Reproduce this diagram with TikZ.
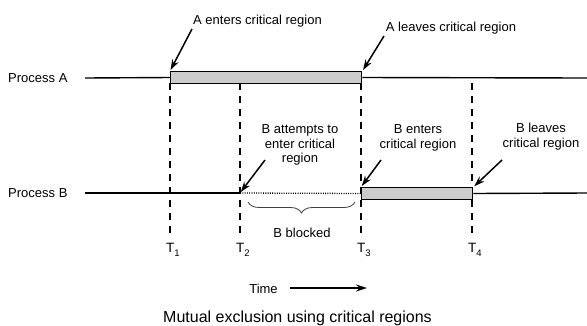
\documentclass[tikz,border=0pt]{standalone}
\usepackage{fontspec}
\setmainfont{Liberation Sans}
\usetikzlibrary{arrows.meta,decorations.pathreplacing}
\newcommand{\tlab}[1]{T\raisebox{-0.6ex}{\fontsize{9.5}{9.5}\selectfont #1}}
\begin{document}
\begin{tikzpicture}[x=1pt,y=-1pt,
  lbl/.style={font=\fontsize{13}{14.5}\selectfont, inner sep=0pt, align=center},
  tl/.style={font=\fontsize{13.5}{14}\selectfont, inner sep=0pt, anchor=base west},
  proc/.style={line width=1.4pt},
  dots/.style={line width=1.3pt, dash pattern=on 1pt off 1.3pt},
  bar/.style={draw, line width=1.4pt, fill=black!20, minimum height=11.5pt, inner sep=0pt},
  tdash/.style={line width=1.3pt, dash pattern=on 7pt off 6pt},
  arr/.style={line width=1.5pt, -{Stealth[length=10.5pt,width=7pt]}, shorten >=1.2pt},
]
\useasboundingbox (0,0) rectangle (587,325);
% process labels
\node[lbl, anchor=base west] (pA) at (8,82.5) {Process A};
\node[lbl, anchor=base west] (pB) at (8,197.5) {Process B};
% coordinates
\coordinate (a0) at (85,78);
\coordinate (aend) at (587,78);
\coordinate (b0) at (85,193);
\coordinate (b2) at (240,193);
\coordinate (bend) at (587,193);
\coordinate (u2) at (240,83);
\coordinate (u4) at (472,83);
\coordinate (d1) at (170,236);
\coordinate (d2) at (240,236);
\coordinate (d3) at (361,236);
\coordinate (d4) at (472,236);
% dashed time lines
\draw[tdash] (170,83) -- (d1);
\draw[tdash] (u2) -- (d2);
\draw[tdash] (361,83) -- (d3);
\draw[tdash] (u4) -- (d4);
% process A
\node[bar, minimum width=191pt, anchor=west] (barA) at (170,77.5) {};
\draw[proc] (a0) -- (barA.west);
\draw[proc] (barA.east) -- (aend);
% process B
\node[bar, minimum width=111pt, anchor=west] (barB) at (361,193.5) {};
\draw[proc] (b0) -- (b2);
\draw[dots] (b2) -- (barB.west);
\draw[proc] (barB.east) -- (bend);
% T labels
\node[tl] (t1) at (166,252) {\tlab{1}};
\node[tl] (t2) at (236,252) {\tlab{2}};
\node[tl] (t3) at (357,252) {\tlab{3}};
\node[tl] (t4) at (468,252) {\tlab{4}};
% brace
\coordinate (bl) at (248,202);
\coordinate (br) at (355,202);
\draw[decorate, decoration={brace, mirror, amplitude=11pt}, line width=0.8pt, black!75] (bl) -- (br);
\node[lbl, anchor=base] (blk) at (302,237) {B blocked};
% labels and arrows
\node[lbl, anchor=base] (aent) at (257.5,24) {A enters critical region};
\node[lbl, anchor=base] (alv) at (451,31) {A leaves critical region};
\node[lbl, anchor=base] (batt) at (300,162.5) {B attempts to\\enter critical\\region};
\node[lbl, anchor=base] (bent) at (418,148) {B enters\\critical region};
\node[lbl, anchor=base] (blv) at (541,147) {B leaves\\critical region};
\coordinate (ta) at (192,29);
\coordinate (tb) at (384,36);
\coordinate (tc) at (265,160);
\coordinate (td) at (381,160);
\coordinate (te) at (502,160);
\draw[arr] (ta) -- (barA.north west);
\draw[arr] (tb) -- (barA.north east);
\draw[arr] (tc) -- (b2);
\draw[arr] (td) -- (barB.north west);
\draw[arr] (te) -- (barB.north east);
% time arrow
\node[lbl, anchor=base] (time) at (263.5,293) {Time};
\coordinate (tt0) at (290,288);
\coordinate (tt1) at (367,288);
\draw[line width=1.5pt, -{Stealth[length=11pt,width=7pt]}] (tt0) -- (tt1);
% caption
\node[inner sep=0pt, anchor=base, font=\fontsize{16}{18}\selectfont] (cap) at (297.5,322) {Mutual exclusion using critical regions};
\end{tikzpicture}
\end{document}
